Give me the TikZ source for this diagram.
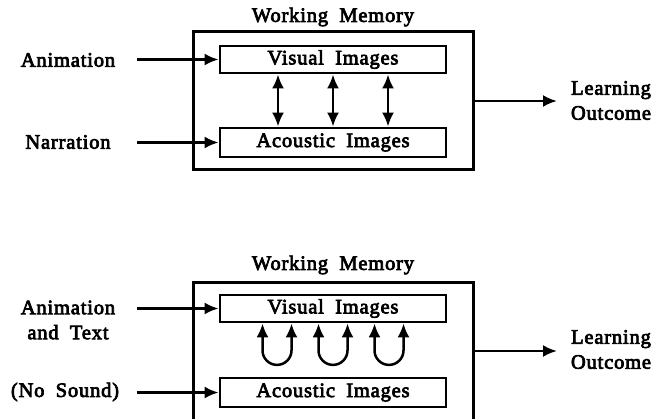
\documentclass[tikz,border=0pt]{standalone}
\usepackage{fontspec}
\setmainfont{Liberation Serif}[LetterSpace=4,FakeBold=3.5]
\usetikzlibrary{arrows.meta}
\tikzset{
  lbl/.style={font=\fontsize{20.5}{25}\selectfont, inner sep=0pt, align=center},
  outerbox/.style={draw, line width=3pt, minimum width=280pt, minimum height=138pt, inner sep=0pt},
  innerbox/.style={draw, line width=2.8pt, minimum width=226pt, inner sep=0pt, font=\fontsize{20.5}{25}\selectfont},
  tip/.tip={Latex[length=14pt,width=12pt]},
  conn/.style={line width=2.5pt, -tip},
  dconn/.style={line width=2.5pt, tip-tip},
}
\newcommand{\ws}{\hspace{0.55em}}
\begin{document}
\begin{tikzpicture}[x=1pt,y=1pt]
\useasboundingbox (0,0) rectangle (668,418);
\begin{scope}
\clip (0,0) rectangle (668,418);
% top panel
\node[lbl] (wm1) at (333,401) {Working\ws Memory};
\node[outerbox] (outer1) at (333,317) {};
\node[innerbox, minimum height=27pt] (vis1) at (333,358.5) {Visual\ws Images};
\node[innerbox, minimum height=29pt] (aco1) at (333,275.5) {Acoustic\ws Images};
\node[lbl] (anim1) at (68,358) {Animation};
\node[lbl] (narr) at (68,276) {Narration};
\node[lbl] (lo1) at (611,317.5) {Learning\\Outcome};
\coordinate (in1) at (137,358.5);
\coordinate (in2) at (137,275.5);
\coordinate (out1) at (557,317);
\draw[conn] (in1) -- (vis1.west);
\draw[conn] (in2) -- (aco1.west);
\draw[conn] (outer1.east) -- (out1);
\foreach \dx in {-55,0,55}{
  \draw[dconn] ([xshift=\dx pt]vis1.south) -- ([xshift=\dx pt]aco1.north);
}
% bottom panel
\node[lbl] (wm2) at (333,153) {Working\ws Memory};
\node[outerbox] (outer2) at (333,67) {};
\node[innerbox, minimum height=27pt] (vis2) at (333,109.5) {Visual\ws Images};
\node[innerbox, minimum height=29pt] (aco2) at (333,25.5) {Acoustic\ws Images};
\node[lbl] (anim2) at (68,98) {Animation\\and\ws Text};
\node[lbl] (nosound) at (65,26) {(No\ws Sound)};
\node[lbl] (lo2) at (611,68.5) {Learning\\Outcome};
\coordinate (in3) at (137,109.5);
\coordinate (in4) at (137,25.5);
\coordinate (out2) at (557,67);
\draw[conn] (in3) -- (vis2.west);
\draw[conn] (in4) -- (aco2.west);
\draw[conn] (outer2.east) -- (out2);
\foreach \cx in {-56,0,56}{
  \draw[dconn] ([xshift=\cx pt - 14.5pt]vis2.south) -- ++(0,-27)
     arc[start angle=180, end angle=360, radius=14.5]
     -- ([xshift=\cx pt + 14.5pt]vis2.south);
}
\end{scope}
\end{tikzpicture}
\end{document}
